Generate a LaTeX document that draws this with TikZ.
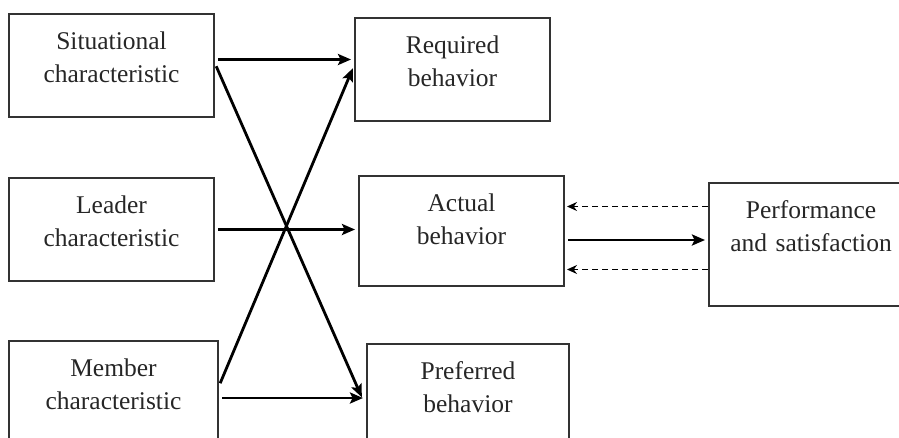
\documentclass[tikz,border=0pt]{standalone}
\usepackage{fontspec}
\setmainfont{Liberation Serif}
\usetikzlibrary{arrows.meta}

\begin{document}
\begin{tikzpicture}
  [x=1pt,y=-1pt,>={Stealth[length=13pt,width=11pt,inset=2.5pt]},every node/.style={align=center,font=\fontsize{25.5}{33}\selectfont}]
  \tikzstyle{box}=[draw=black!80,line width=2pt,rectangle,anchor=north west,inner sep=0pt,text width=205pt,text height=35.5pt,text depth=67.5pt,text=black!85]
  \tikzstyle{flow}=[->,line width=2.8pt,shorten <=3pt,shorten >=3pt]
  \tikzstyle{feedback}=[->,line width=1.4pt,dash pattern=on 6pt off 4pt,>={Stealth[length=10pt,width=9pt]},shorten >=2pt]
  \useasboundingbox (0,0) rectangle (899,437);
  \clip (0,0) rectangle (899,437);

  \node[box] (sit) at (8,13) {Situational\\characteristic};
  \node[box] (lead) at (8,177) {Leader\\characteristic};
  \node[box,text width=209pt,text depth=78.5pt] (mem) at (8,340) {Member\\characteristic};

  \node[box,text width=195pt] (req) at (354,17) {Required\\behavior};
  \node[box,text depth=74.5pt] (act) at (358,175) {Actual\\behavior};
  \node[box,text width=202pt,text depth=72.5pt] (pref) at (366,343) {Preferred\\behavior};

  \node[box,text width=204pt,text depth=87.5pt] (perf) at (708,182) {Performance\\and satisfaction};

  \draw[flow] ([yshift=6pt]sit.east) -- ([yshift=6pt]sit.east -| req.west);
  \draw[flow] ([yshift=2pt]sit.east) -- ([xshift=-3pt,yshift=-2pt]pref.west);
  \draw[flow] (lead.east) -- (lead.east -| act.west);
  \draw[flow] ([yshift=12pt]mem.east) -- ([yshift=4pt]req.west);
  \draw[flow] (mem.east) -- (mem.east -| pref.west);

  \draw[flow] ([yshift=-9pt]act.east) -- ([yshift=-9pt]act.east -| perf.west);
  \draw[feedback] ([yshift=38pt]perf.west) -- ([yshift=38pt]perf.west -| act.east);
  \draw[feedback] ([yshift=-25pt]perf.west) -- ([yshift=-25pt]perf.west -| act.east);

\end{tikzpicture}
\end{document}
